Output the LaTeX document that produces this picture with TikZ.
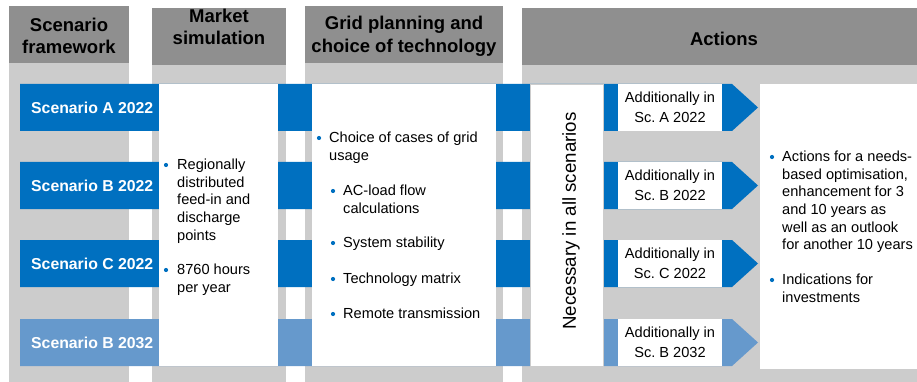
\documentclass[tikz,border=0pt]{standalone}
\usepackage{fontspec}
\setmainfont{Liberation Sans}
\frenchspacing

\definecolor{barblue}{HTML}{0070C0}
\definecolor{barlight}{HTML}{6699CC}
\definecolor{headgray}{HTML}{8F8F8F}
\definecolor{colgray}{HTML}{CCCCCC}

\tikzset{
  headtext/.style={font=\fontsize{18.5}{22.7}\selectfont\bfseries, align=center, inner sep=0},
  scentext/.style={font=\fontsize{15.8}{19}\selectfont\bfseries, text=white, anchor=west, inner sep=0},
  bodytext/.style={font=\fontsize{14.6}{17.6}\selectfont, align=left, anchor=north west, inner sep=0},
  addbox/.style={fill=white, minimum width=104pt, minimum height=47pt, inner sep=0,
                 font=\fontsize{14.6}{19.5}\selectfont, align=center},
  bullet/.style={circle, fill=barblue, inner sep=0, minimum size=4.2pt},
}

\begin{document}
\begin{tikzpicture}[x=1pt,y=-1pt]
        \useasboundingbox (0,0) rectangle (917,382);

        % Step 1: the four columns, light gray body and dark gray header
        \fill[colgray] (9,63) rectangle (129,382);
        \fill[colgray] (152,65) rectangle (286,382);
        \fill[colgray] (305,63) rectangle (503,382);
        \fill[colgray] (522,65) rectangle (917,382);
        \fill[headgray] (9,6) rectangle (129,63);
        \fill[headgray] (152,8) rectangle (286,65);
        \fill[headgray] (305,6) rectangle (503,63);
        \fill[headgray] (522,8) rectangle (917,65);

        % Step 2: column titles
        \node[headtext] (hscen) at (69,36) {Scenario\\framework};
        \node[headtext] (hmarket) at (219,27) {Market\\simulation};
        \node[headtext] (hgrid) at (404,36) {Grid planning and\\choice of technology};
        \node[headtext] (hact) at (724,39) {Actions};

        % Step 3: one arrow bar for each scenario
        \foreach \ty/\col/\nm/\lab in {84/barblue/a/A 2022, 162/barblue/b/B 2022,
                                        240/barblue/c/C 2022, 319/barlight/d/B 2032} {
          \fill[\col] (20,\ty) -- (732,\ty) -- (758,\ty+23.5) -- (732,\ty+47) -- (20,\ty+47) -- cycle;
          \node[scentext] (scen\nm) at (31,\ty+23.5) {Scenario \lab};
        }

        % Step 4: white panels laid over the bars
        \fill[white] (159,84) rectangle (278,366);
        \fill[white] (312,84) rectangle (496,366);
        \filldraw[fill=white, draw=colgray, line width=0.6pt] (530,84) rectangle (603,366);
        \fill[white] (760,84) rectangle (917,369);

        % Step 5: the "Additionally in" boxes
        \foreach \ty/\nm/\lab in {84/a/A 2022, 162/b/B 2022, 240/c/C 2022, 319/d/B 2032} {
          \node[addbox] (add\nm) at (670,\ty+23.5) {Additionally in\\Sc. \lab};
        }

        % Step 6: vertical text
        \node[rotate=90, inner sep=0, font=\fontsize{18.7}{22}\selectfont] (nec) at (571,221) {Necessary in all scenarios};

        % Step 7: market simulation items
        \node[bullet] (dmarket1) at (166,165) {};
        \node[bodytext] (market1) at (177,159) {Regionally\\distributed\\feed-in and\\discharge\\points};
        \node[bullet] (dmarket2) at (166,270) {};
        \node[bodytext] (market2) at (177,264) {8760 hours\\per year};

        % Step 8: grid planning items
        \node[bullet] (dgrid1) at (319,138) {};
        \node[bodytext] (grid1) at (329,132) {Choice of cases of grid\\usage};
        \node[bullet] (dgrid2) at (333,191) {};
        \node[bodytext] (grid2) at (343,185) {AC-load flow\\calculations};
        \node[bullet] (dgrid3) at (333,243) {};
        \node[bodytext] (grid3) at (343,237) {System stability};
        \node[bullet] (dgrid4) at (333,279) {};
        \node[bodytext] (grid4) at (343,273) {Technology matrix};
        \node[bullet] (dgrid5) at (333,314) {};
        \node[bodytext] (grid5) at (343,308) {Remote transmission};

        % Step 9: actions items
        \node[bullet] (dact1) at (772,157) {};
        \node[bodytext] (act1) at (782,151) {Actions for a needs-\\based optimisation,\\enhancement for 3\\and 10 years as\\well as an outlook\\for another 10 years};
        \node[bullet] (dact2) at (772,280) {};
        \node[bodytext] (act2) at (782,274) {Indications for\\investments};
\end{tikzpicture}
\end{document}
